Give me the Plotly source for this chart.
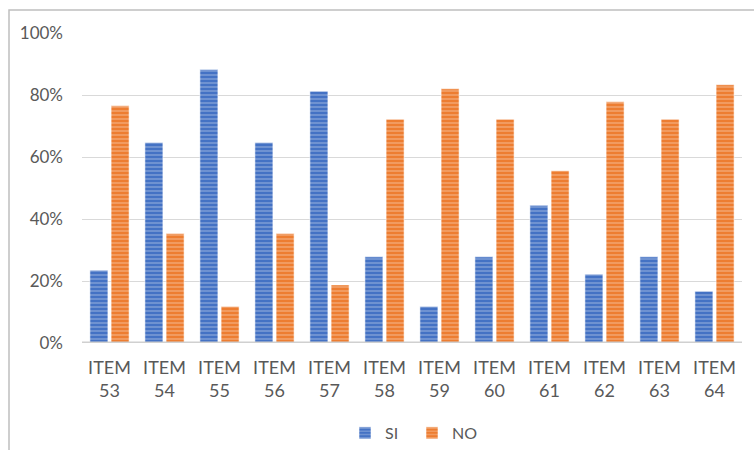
import plotly.graph_objects as go

# Survey answers per item (share of respondents)
items = ["ITEM<br>53", "ITEM<br>54", "ITEM<br>55", "ITEM<br>56", "ITEM<br>57", "ITEM<br>58",
         "ITEM<br>59", "ITEM<br>60", "ITEM<br>61", "ITEM<br>62", "ITEM<br>63", "ITEM<br>64"]
si_values = [0.235, 0.647, 0.882, 0.647, 0.8125, 0.278, 0.118, 0.278, 0.444, 0.222, 0.278, 0.167]
no_values = [0.765, 0.353, 0.118, 0.353, 0.1875, 0.722, 0.82, 0.722, 0.556, 0.778, 0.722, 0.833]
y_ticks = [0, 0.2, 0.4, 0.6, 0.8, 1.0]

BLUE = "#4472C4"
ORANGE = "#ED7D31"
FONT = "Lato"
GREY_TEXT = "#595959"


def striped(color):
    return dict(
        color=color,
        line=dict(color="rgba(255,255,255,0.55)", width=1),
        pattern=dict(shape="-", fgcolor="rgba(255,255,255,0.75)", size=4,
                     solidity=0.3, fillmode="overlay"),
    )


fig = go.Figure()
fig.add_trace(go.Bar(name="SI", x=items, y=si_values, marker=striped(BLUE)))
fig.add_trace(go.Bar(name="NO", x=items, y=no_values, marker=striped(ORANGE)))

fig.update_layout(
    width=754, height=450,
    margin=dict(l=82, r=12, t=33, b=107, autoexpand=False),
    paper_bgcolor="white", plot_bgcolor="white",
    barmode="group", bargap=0.23, bargroupgap=0.15,
    font=dict(family=FONT, size=17, color=GREY_TEXT),
    showlegend=True,
    legend=dict(orientation="h", x=0.5, xanchor="center",
                yref="container", y=17 / 450, yanchor="middle",
                font=dict(size=16, color=GREY_TEXT), itemwidth=30,
                entrywidth=22, entrywidthmode="pixels",
                bgcolor="rgba(0,0,0,0)"),
    xaxis=dict(showgrid=False, showline=False, ticks="", tickfont=dict(size=18),
               zeroline=False, ticklabelstandoff=12),
    yaxis=dict(range=[0, 1.0], tickvals=y_ticks, tickformat=".0%",
               showgrid=True, gridcolor="#D9D9D9", gridwidth=1,
               zeroline=False, showline=False, ticks="", ticklabelstandoff=18,
               tickfont=dict(size=17)),
    shapes=[
        # baseline under the bars
        dict(type="line", xref="paper", yref="y", x0=0, x1=1, y0=0, y1=0,
             line=dict(color="#D0D0D0", width=3), layer="above"),
        # chart frame (top and left edges fall inside the page)
        dict(type="rect", xref="paper", yref="paper",
             x0=-73 / 660, x1=1.5, y0=-1.0, y1=(33 - 10) / 310 + 1,
             line=dict(color="#BFBFBF", width=1.5), layer="below"),
    ],
)

fig.write_html("out.html")
